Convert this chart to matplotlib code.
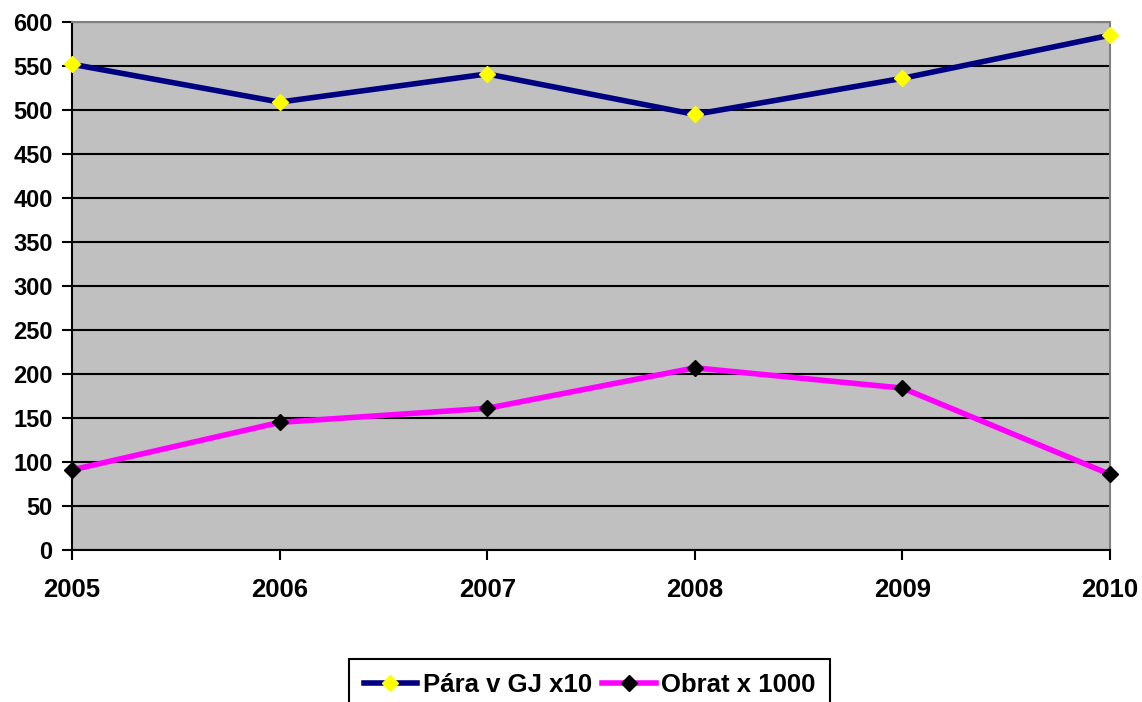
import matplotlib
matplotlib.use("Agg")
import matplotlib.pyplot as plt

years = ["2005", "2006", "2007", "2008", "2009", "2010"]
para = [552, 509, 541, 495, 536, 585]
obrat = [91, 145, 161, 207, 184, 86]
yticks = [0, 50, 100, 150, 200, 250, 300, 350, 400, 450, 500, 550, 600]
labels = ["Pára v GJ x10", "Obrat x 1000"]

plt.rcParams['font.family'] = ['Liberation Sans', 'DejaVu Sans']
plt.rcParams['font.weight'] = 'bold'

W, H = 1142, 702
fig = plt.figure(figsize=(W/100, H/100), dpi=100)
ax = fig.add_axes([72/W, (H-550)/H, (1110-72)/W, (550-22)/H])
ax.set_facecolor('#c0c0c0')

x = list(range(len(years)))
ax.plot(x, para, color='#000080', lw=4, marker='D', ms=8.5, mfc='#ffff00', mec='#ffff00',
        label=labels[0], zorder=3, clip_on=False)
ax.plot(x, obrat, color='#ff00ff', lw=4, marker='D', ms=8.5, mfc='black', mec='black',
        label=labels[1], zorder=3, clip_on=False)

ax.set_xlim(0, len(years)-1)
ax.set_ylim(0, 600)
ax.set_yticks(yticks)
ax.set_xticks(x)
ax.set_xticklabels(years)
ax.yaxis.grid(True, color='black', lw=1.5)
ax.set_axisbelow(True)
for s in ['top', 'right']:
    ax.spines[s].set_color('#808080')
    ax.spines[s].set_linewidth(1.5)
for s in ['left', 'bottom']:
    ax.spines[s].set_color('black')
    ax.spines[s].set_linewidth(1.5)
ax.tick_params(axis='both', direction='out', length=7, width=1.5)
ax.tick_params(axis='x', pad=13, labelsize=18.5)
ax.tick_params(axis='y', pad=7, labelsize=17)
for t in ax.get_xticklabels() + ax.get_yticklabels():
    t.set_fontweight('bold')

leg = fig.legend(loc='upper center', bbox_to_anchor=(589.5/W, (H-659)/H), ncol=2,
                 frameon=True, fancybox=False, edgecolor='black', framealpha=1,
                 fontsize=18.5, handlelength=2.1, columnspacing=0.4, handletextpad=0.2,
                 borderpad=0.55, borderaxespad=0)
leg.get_frame().set_linewidth(1.5)
for t in leg.get_texts():
    t.set_fontweight('bold')

fig.savefig('out.png', dpi=100)
